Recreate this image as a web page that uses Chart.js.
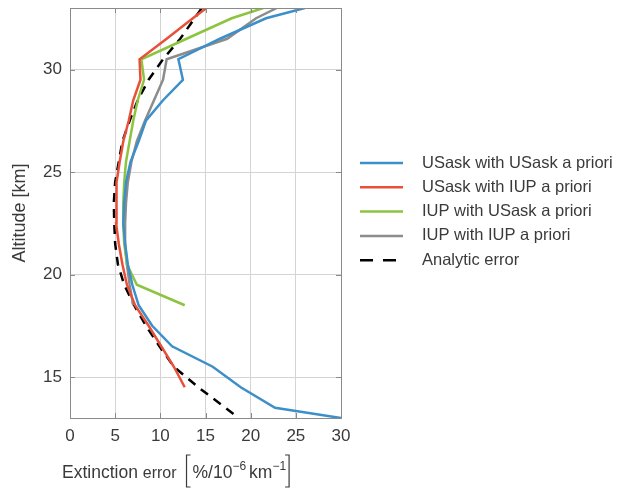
<!DOCTYPE html>
<html lang="en">
<head>
    <meta charset="UTF-8">
    <title>Extinction error</title>
    <script src="https://cdn.jsdelivr.net/npm/chart.js"></script>
</head>

<style>
    body { margin: 0; background: #fff; }
    .grafico_sty { width: 617px; height: 491px; }
</style>

<body>

    <div class="grafico_sty">
        <canvas id="grafico_1"></canvas>
    </div>

    <script>

        // legend names
        const nomes = ['USask with USask a priori', 'USask with IUP a priori', 'IUP with USask a priori', 'IUP with IUP a priori', 'Analytic error'];

        // altitude [km] and error [%/10^-6 km^-1] for each curve
        const altUsaskUsask = [13.0, 13.5, 14.5, 15.5, 16.5, 17.5, 18.5, 19.5, 20.5, 21.5, 22.5, 23.5, 24.5, 25.5, 26.5, 27.5, 28.5, 29.5, 30.5, 31.5, 32.5, 33.0];
        const errUsaskUsask = [30.0, 22.7, 18.9, 15.8, 11.3, 9.1, 7.6, 6.9, 6.4, 6.1, 5.9, 6.0, 6.2, 6.7, 7.6, 8.4, 10.3, 12.5, 12.0, 16.6, 21.7, 26.0];

        const altUsaskIup = [14.5, 15.5, 16.5, 17.5, 18.5, 19.5, 20.5, 21.5, 22.5, 23.5, 24.5, 25.5, 26.5, 27.5, 28.5, 29.5, 30.5, 31.5, 32.5, 33.0];
        const errUsaskIup = [12.7, 11.5, 10.1, 8.7, 7.2, 6.3, 5.8, 5.4, 5.1, 5.1, 5.2, 5.5, 5.9, 6.5, 7.0, 7.8, 7.7, 10.7, 13.6, 15.1];

        const altIupUsask = [18.5, 19.5, 20.5, 21.5, 22.5, 23.5, 24.5, 25.5, 26.5, 27.5, 28.5, 29.5, 30.5, 31.5, 32.5, 33.0];
        const errIupUsask = [12.7, 7.4, 6.3, 6.0, 5.9, 5.9, 6.0, 6.2, 6.6, 7.0, 7.5, 8.2, 7.9, 12.9, 17.9, 21.4];

        const altIupIup = [18.5, 19.5, 20.5, 21.5, 22.5, 23.5, 24.5, 25.5, 26.5, 27.5, 28.5, 29.5, 30.5, 31.5, 32.5, 33.0];
        const errIupIup = [7.0, 6.6, 6.3, 6.1, 6.1, 6.2, 6.4, 6.8, 7.4, 8.3, 9.3, 10.3, 10.7, 17.4, 20.6, 22.9];

        const altAnalitico = [13.2, 14.5, 15.5, 16.5, 17.5, 18.5, 19.5, 20.5, 21.5, 22.5, 23.5, 24.5, 25.5, 26.5, 27.5, 28.5, 29.5, 30.5, 31.5, 32.5, 33.0];
        const errAnalitico = [18.1, 14.2, 11.5, 9.9, 8.4, 7.1, 6.0, 5.3, 5.0, 4.9, 4.85, 5.0, 5.4, 5.8, 6.6, 7.5, 8.7, 10.3, 12.2, 13.8, 14.6];

        const ticksX = [0, 5, 10, 15, 20, 25, 30];
        const ticksY = [15, 20, 25, 30];

        const pontos = (alts, errs) => alts.map((a, i) => ({ x: errs[i], y: a }));

        const corTexto = '#3a3a3a';
        const fonte = 'Helvetica, "Liberation Sans", Arial, sans-serif';

        const serie = (nome, alts, errs, cor, tracejado) => ({
            label: nome,
            data: pontos(alts, errs),
            borderColor: cor,
            backgroundColor: cor,
            borderWidth: 2.5,
            borderDash: tracejado || [],
            pointRadius: 0,
            showLine: true,
            tension: 0
        });

        // box round the plot plus small inner ticks
        const moldura = {
            id: 'moldura',
            afterDatasetsDraw(chart) {
                const { ctx, chartArea: a, scales } = chart;
                ctx.save();
                ctx.strokeStyle = '#8a8a8a';
                ctx.lineWidth = 1;
                ctx.strokeRect(a.left + 0.5, a.top + 0.5, a.right - a.left, a.bottom - a.top);
                ctx.beginPath();
                ticksY.forEach(v => {
                    const y = Math.round(scales.y.getPixelForValue(v)) + 0.5;
                    ctx.moveTo(a.left, y); ctx.lineTo(a.left + 5, y);
                    ctx.moveTo(a.right, y); ctx.lineTo(a.right - 5, y);
                });
                ticksX.forEach(v => {
                    const x = Math.round(scales.x.getPixelForValue(v)) + 0.5;
                    ctx.moveTo(x, a.bottom); ctx.lineTo(x, a.bottom - 5);
                    ctx.moveTo(x, a.top); ctx.lineTo(x, a.top + 5);
                });
                ctx.stroke();
                ctx.restore();
            }
        };

        // legend drawn beside the plot
        const legenda = {
            id: 'legenda',
            afterDraw(chart) {
                const ctx = chart.ctx;
                ctx.save();
                chart.data.datasets.forEach((ds, i) => {
                    const y = 163 + i * 24.3;
                    ctx.beginPath();
                    ctx.strokeStyle = ds.borderColor;
                    ctx.lineWidth = 2.5;
                    ctx.setLineDash(ds.borderDash.length ? [13, 10] : []);
                    ctx.moveTo(360, y);
                    ctx.lineTo(403, y);
                    ctx.stroke();
                    ctx.setLineDash([]);
                    ctx.fillStyle = corTexto;
                    ctx.font = '16.5px ' + fonte;
                    ctx.textBaseline = 'middle';
                    ctx.fillText(ds.label, 422, y);
                });
                ctx.restore();
            }
        };

        // x axis title with superscripts
        const tituloX = {
            id: 'tituloX',
            afterDraw(chart) {
                const ctx = chart.ctx;
                ctx.save();
                ctx.fillStyle = corTexto;
                ctx.textBaseline = 'alphabetic';
                const base = 478;
                let x = 62;
                ctx.font = '17.5px ' + fonte;
                ctx.fillText('Extinction', x, base);
                x += ctx.measureText('Extinction ').width;
                ctx.font = '16px ' + fonte;
                ctx.fillText('error', x, base);
                x += ctx.measureText('error').width + 10;
                // left bracket
                ctx.strokeStyle = corTexto;
                ctx.lineWidth = 1.2;
                ctx.beginPath();
                ctx.moveTo(x + 4, base - 23); ctx.lineTo(x, base - 23); ctx.lineTo(x, base + 9); ctx.lineTo(x + 4, base + 9);
                ctx.stroke();
                x += 6;
                ctx.font = '17.5px ' + fonte;
                ctx.fillText('%/10', x, base);
                x += ctx.measureText('%/10').width;
                ctx.font = '12px ' + fonte;
                ctx.fillText('\u22126', x, base - 8);
                x += ctx.measureText('\u22126').width + 3;
                ctx.font = '17.5px ' + fonte;
                ctx.fillText('km', x, base);
                x += ctx.measureText('km').width;
                ctx.font = '12px ' + fonte;
                ctx.fillText('\u22121', x, base - 8);
                x += ctx.measureText('\u22121').width + 3;
                ctx.beginPath();
                ctx.moveTo(x - 4, base - 23); ctx.lineTo(x, base - 23); ctx.lineTo(x, base + 9); ctx.lineTo(x - 4, base + 9);
                ctx.stroke();
                ctx.restore();
            }
        };

        const ctx = document.getElementById('grafico_1');

        const grafico_1 = new Chart(ctx, {
            type: 'scatter',
            data: {
                datasets: [
                    serie(nomes[0], altUsaskUsask, errUsaskUsask, '#3c8fc9'),
                    serie(nomes[1], altUsaskIup, errUsaskIup, '#e8503a'),
                    serie(nomes[2], altIupUsask, errIupUsask, '#8cc43f'),
                    serie(nomes[3], altIupIup, errIupIup, '#8c8c8c'),
                    serie(nomes[4], altAnalitico, errAnalitico, '#000000', [9, 7])
                ]
            },
            options: {
                responsive: true,
                maintainAspectRatio: false,
                animation: false,
                layout: { padding: { left: 0, right: 276, top: 8, bottom: 0 } },
                plugins: {
                    legend: { display: false },
                    tooltip: { enabled: false }
                },
                scales: {
                    x: {
                        type: 'linear',
                        min: 0,
                        max: 30,
                        afterBuildTicks: s => { s.ticks = ticksX.map(v => ({ value: v })); },
                        afterFit: s => { s.height = 73; s.paddingLeft = 0; s.paddingRight = 0; },
                        grid: { color: '#d4d4d4', drawTicks: false },
                        border: { display: false },
                        ticks: { padding: 8, color: corTexto, font: { size: 17, family: fonte } }
                    },
                    y: {
                        type: 'linear',
                        min: 13,
                        max: 33,
                        afterBuildTicks: s => { s.ticks = ticksY.map(v => ({ value: v })); },
                        afterFit: s => { s.width = 70; s.paddingTop = 0; s.paddingBottom = 0; },
                        grid: { color: '#d4d4d4', drawTicks: false },
                        border: { display: false },
                        ticks: { padding: 8, color: corTexto, font: { size: 17, family: fonte } },
                        title: {
                            display: true,
                            text: 'Altitude [km]',
                            color: corTexto,
                            font: { size: 18, family: fonte },
                            padding: { top: 9, bottom: 0 }
                        }
                    }
                }
            },
            plugins: [moldura, legenda, tituloX]
        });

    </script>

</body>

</html>
